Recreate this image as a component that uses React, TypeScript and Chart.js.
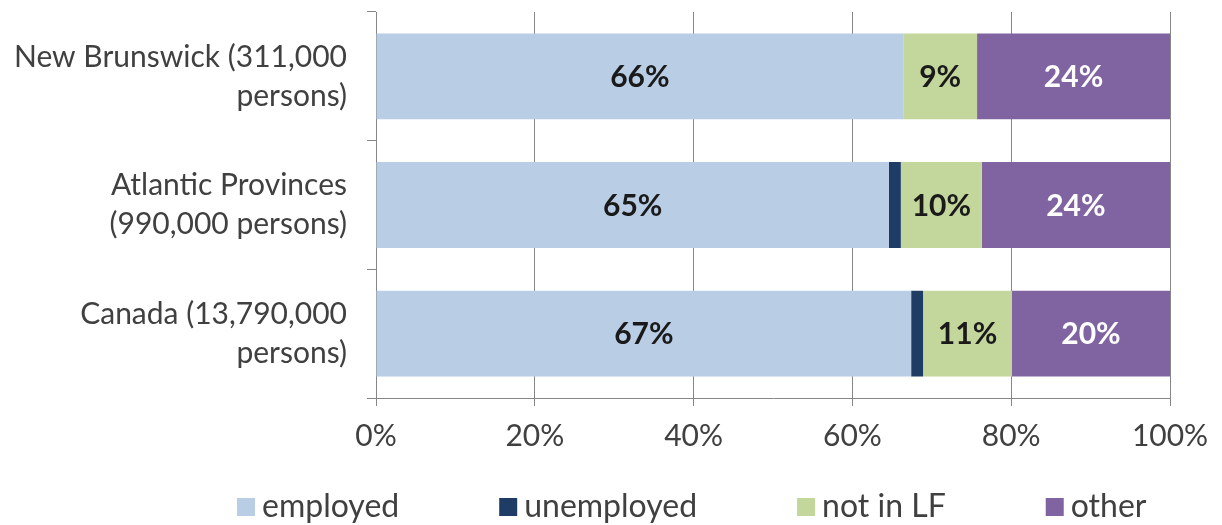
import React, { useEffect, useRef } from "react";
import { Chart, registerables } from "chart.js";

Chart.register(...registerables);

const categories: string[][] = [
  ["New Brunswick (311,000", "persons)"],
  ["Atlantic Provinces", "(990,000 persons)"],
  ["Canada (13,790,000", "persons)"],
];
const employed = [66.4, 64.6, 67.4];
const unemployed = [0, 1.5, 1.5];
const notInLF = [9.3, 10.2, 11.2];
const other = [24.3, 23.7, 19.9];
const seriesNames = ["employed", "unemployed", "not in LF", "other"];
const seriesColors = ["#B9CDE5", "#1F3D64", "#C3D69B", "#8064A2"];
const labelColors = ["#1a1a1a", null, "#1a1a1a", "#ffffff"];
const xTicks = [0, 20, 40, 60, 80, 100];

const FONT = "Lato, 'Open Sans', sans-serif";
const TEXT = "#404040";
const AXIS = "#868686";

// legend layout (not data)
const LEGEND_LEFT = 237;
const LEGEND_Y = 507;
const LEGEND_BOX = 18;
const LEGEND_TEXT_GAP = 7;
const LEGEND_ITEM_GAP = 100;

const barLabels = {
  id: "barLabels",
  afterDatasetsDraw(chart: any) {
    const ctx = chart.ctx;
    ctx.save();
    ctx.font = `bold 30px ${FONT}`;
    ctx.textAlign = "center";
    ctx.textBaseline = "middle";
    chart.data.datasets.forEach((ds: any, di: number) => {
      const color = labelColors[di];
      if (!color) return;
      const meta = chart.getDatasetMeta(di);
      meta.data.forEach((el: any, i: number) => {
        const v = ds.data[i];
        if (!v) return;
        const x = (el.x + el.base) / 2;
        ctx.fillStyle = color;
        ctx.fillText(`${Math.round(v)}%`, x, el.y + 1);
      });
    });
    ctx.restore();
  },
};

const bottomLegend = {
  id: "bottomLegend",
  afterDraw(chart: any) {
    const ctx = chart.ctx;
    ctx.save();
    ctx.font = `32px ${FONT}`;
    ctx.textAlign = "left";
    ctx.textBaseline = "middle";
    let x = LEGEND_LEFT;
    chart.data.datasets.forEach((ds: any) => {
      ctx.fillStyle = ds.backgroundColor;
      ctx.fillRect(x, LEGEND_Y - LEGEND_BOX / 2, LEGEND_BOX, LEGEND_BOX);
      x += LEGEND_BOX + LEGEND_TEXT_GAP;
      ctx.fillStyle = TEXT;
      ctx.fillText(ds.label, x, LEGEND_Y);
      x += ctx.measureText(ds.label).width + LEGEND_ITEM_GAP;
    });
    ctx.restore();
  },
};

export default function App() {
  const ref = useRef<HTMLCanvasElement>(null);
  useEffect(() => {
    document.body.style.margin = "0";
    const values = [employed, unemployed, notInLF, other];
    const chart = new Chart(ref.current as HTMLCanvasElement, {
      type: "bar",
      data: {
        labels: categories,
        datasets: values.map((d, i) => ({
          label: seriesNames[i],
          data: d,
          backgroundColor: seriesColors[i],
          borderWidth: 0,
          categoryPercentage: 1,
          barPercentage: 0.667,
        })),
      },
      options: {
        indexAxis: "y",
        animation: false,
        responsive: false,
        events: [],
        layout: { padding: { left: 10, right: 52, top: 12, bottom: 59 } },
        plugins: {
          tooltip: { enabled: false },
          legend: { display: false },
        },
        scales: {
          x: {
            stacked: true,
            min: 0,
            max: 100,
            afterBuildTicks: (s: any) => {
              s.ticks = xTicks.map((v) => ({ value: v }));
            },
            ticks: {
              callback: (v: any) => `${v}%`,
              font: { family: FONT, size: 30 },
              color: TEXT,
              padding: 12,
              maxRotation: 0,
            },
            grid: { color: AXIS, lineWidth: 1, tickLength: 8 },
            border: { color: AXIS, width: 1 },
          },
          y: {
            stacked: true,
            afterFit: (s: any) => {
              s.width = 366;
              s.paddingTop = 0;
              s.paddingBottom = 0;
            },
            ticks: {
              font: { family: FONT, size: 30, lineHeight: 1.3 },
              color: TEXT,
              padding: 20,
            },
            grid: {
              offset: true,
              drawOnChartArea: false,
              color: AXIS,
              tickLength: 9,
            },
            border: { color: AXIS, width: 1 },
          },
        },
      },
      plugins: [barLabels, bottomLegend],
    });
    return () => chart.destroy();
  }, []);
  return (
    <div style={{ width: 1222, height: 525, background: "#fff" }}>
      <canvas ref={ref} width={1222} height={525} />
    </div>
  );
}
